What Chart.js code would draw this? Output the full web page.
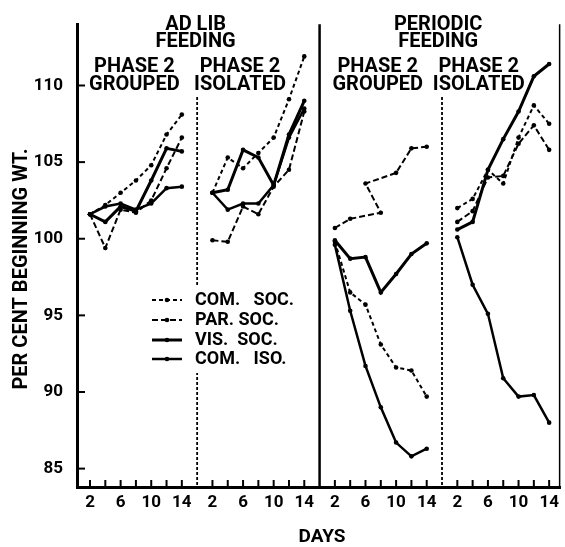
<!DOCTYPE html>
<html><head><meta charset="utf-8">
<script src="https://cdn.jsdelivr.net/npm/chart.js@4.4.1/dist/chart.umd.min.js"></script>
<style>html,body{margin:0;padding:0;background:#fff}#wrap{width:565px;height:547px;position:relative}</style>
</head><body><div id="wrap"><canvas id="c" width="565" height="547"></canvas></div>
<script>
// ---- data ----
const DAYS = [2, 4, 6, 8, 10, 12, 14];
const PANEL_DAYS = 16;
const X_TICK_LABELS = [2, 6, 10, 14];
const Y_TICKS = [85, 90, 95, 100, 105, 110];
const SERIES = ['COM.   SOC.', 'PAR. SOC.', 'VIS.  SOC.', 'COM.   ISO.'];
const TOP_HEADINGS = [['AD LIB', 'FEEDING'], ['PERIODIC', 'FEEDING']];
const PANEL_HEADINGS = [['PHASE 2', 'GROUPED'], ['PHASE 2', 'ISOLATED'], ['PHASE 2', 'GROUPED'], ['PHASE 2', 'ISOLATED']];
const Y_TITLE = 'PER CENT BEGINNING WT.';
const X_TITLE = 'DAYS';

// Ad lib feeding, phase 2 grouped
const ADLIB_GROUPED_COM_SOC = [101.6, 102.2, 103.0, 103.8, 104.8, 106.8, 108.1];
const ADLIB_GROUPED_PAR_SOC = [101.6, 99.4, 101.9, 101.7, 102.5, 104.6, 106.6];
const ADLIB_GROUPED_VIS_SOC = [101.6, 101.1, 102.1, 101.8, 103.8, 105.9, 105.7];
const ADLIB_GROUPED_COM_ISO = [101.6, 102.1, 102.3, 101.9, 102.3, 103.3, 103.4];
// Ad lib feeding, phase 2 isolated
const ADLIB_ISOLATED_COM_SOC = [103.0, 105.3, 104.6, 105.6, 106.6, 109.1, 111.9];
const ADLIB_ISOLATED_PAR_SOC = [99.9, 99.8, 102.1, 101.6, 103.4, 104.5, 108.3];
const ADLIB_ISOLATED_VIS_SOC = [103.0, 103.2, 105.8, 105.3, 103.5, 106.8, 109.0];
const ADLIB_ISOLATED_COM_ISO = [103.0, 101.9, 102.3, 102.3, 103.5, 106.6, 108.5];
// Periodic feeding, phase 2 grouped
const PERIODIC_GROUPED_COM_SOC = [99.8, 96.5, 95.7, 93.1, 91.6, 91.4, 89.7];
const PERIODIC_GROUPED_PAR_SOC_DAYS = [2, 4, 8, 6, 10, 12, 14];
const PERIODIC_GROUPED_PAR_SOC = [100.7, 101.3, 101.7, 103.6, 104.3, 105.9, 106.0];
const PERIODIC_GROUPED_VIS_SOC = [99.9, 98.7, 98.8, 96.5, 97.7, 99.0, 99.7];
const PERIODIC_GROUPED_COM_ISO = [99.6, 95.3, 91.7, 89.0, 86.7, 85.8, 86.3];
// Periodic feeding, phase 2 isolated
const PERIODIC_ISOLATED_COM_SOC = [102.0, 102.6, 104.5, 103.6, 106.6, 108.7, 107.5];
const PERIODIC_ISOLATED_PAR_SOC = [101.1, 101.8, 104.0, 104.1, 106.2, 107.4, 105.8];
const PERIODIC_ISOLATED_VIS_SOC = [100.6, 101.1, 104.5, 106.5, 108.3, 110.6, 111.4];
const PERIODIC_ISOLATED_COM_ISO = [100.1, 97.0, 95.1, 90.9, 89.7, 89.8, 88.0];

// ---- assembly ----
const PANEL_VALUES = [
  [ADLIB_GROUPED_COM_SOC, ADLIB_GROUPED_PAR_SOC, ADLIB_GROUPED_VIS_SOC, ADLIB_GROUPED_COM_ISO],
  [ADLIB_ISOLATED_COM_SOC, ADLIB_ISOLATED_PAR_SOC, ADLIB_ISOLATED_VIS_SOC, ADLIB_ISOLATED_COM_ISO],
  [PERIODIC_GROUPED_COM_SOC, PERIODIC_GROUPED_PAR_SOC, PERIODIC_GROUPED_VIS_SOC, PERIODIC_GROUPED_COM_ISO],
  [PERIODIC_ISOLATED_COM_SOC, PERIODIC_ISOLATED_PAR_SOC, PERIODIC_ISOLATED_VIS_SOC, PERIODIC_ISOLATED_COM_ISO]
];
const PANEL_XDAYS = [
  [DAYS, DAYS, DAYS, DAYS],
  [DAYS, DAYS, DAYS, DAYS],
  [DAYS, PERIODIC_GROUPED_PAR_SOC_DAYS, DAYS, DAYS],
  [DAYS, DAYS, DAYS, DAYS]
];
const STYLE = [
  {dash: [4, 3], width: 2},
  {dash: [6, 3], width: 2},
  {dash: [], width: 3},
  {dash: [], width: 2.5}
];
const FONT = 'Roboto, "Liberation Sans", sans-serif';

const datasets = [];
PANEL_VALUES.forEach((panel, p) => {
  panel.forEach((vals, s) => {
    const days = PANEL_XDAYS[p][s];
    datasets.push({
      label: SERIES[s],
      data: vals.map((v, i) => ({x: p * PANEL_DAYS + days[i], y: v})),
      showLine: true,
      borderColor: '#000',
      backgroundColor: '#000',
      borderWidth: STYLE[s].width,
      borderDash: STYLE[s].dash,
      pointRadius: 2.3,
      pointBorderWidth: 0,
      tension: 0,
      fill: false
    });
  });
});

const xTickValues = [];
for (let p = 0; p < 4; p++) X_TICK_LABELS.forEach(d => xTickValues.push(p * PANEL_DAYS + d));

const decor = {
  id: 'decor',
  beforeDatasetsDraw(chart) {
    const {ctx, chartArea: a, scales: {x, y}} = chart;
    ctx.save();
    ctx.strokeStyle = '#000';
    ctx.lineWidth = 2;
    ctx.setLineDash([]);
    for (let p = 0; p < 4; p++) {
      for (let d = 2; d <= 14; d += 2) {
        const px = x.getPixelForValue(p * PANEL_DAYS + d);
        ctx.beginPath(); ctx.moveTo(px, a.bottom); ctx.lineTo(px, a.bottom - 7); ctx.stroke();
      }
    }
    Y_TICKS.forEach(v => {
      const py = y.getPixelForValue(v);
      ctx.beginPath(); ctx.moveTo(a.left, py); ctx.lineTo(a.left + 8, py); ctx.stroke();
    });
    // panel dividers
    ctx.lineWidth = 1.8;
    ctx.setLineDash([3, 2]);
    [1, 3].forEach(p => {
      const px = x.getPixelForValue(p * PANEL_DAYS);
      ctx.beginPath(); ctx.moveTo(px, 97); ctx.lineTo(px, a.bottom); ctx.stroke();
    });
    ctx.setLineDash([]);
    ctx.lineWidth = 2.5;
    const mid = x.getPixelForValue(2 * PANEL_DAYS);
    ctx.beginPath(); ctx.moveTo(mid, a.top); ctx.lineTo(mid, a.bottom); ctx.stroke();
    ctx.lineWidth = 1.5;
    ctx.beginPath(); ctx.moveTo(a.right - 1, a.top); ctx.lineTo(a.right - 1, a.bottom); ctx.stroke();
    ctx.restore();
  },
  afterDatasetsDraw(chart) {
    const {ctx, chartArea: a, scales: {x}} = chart;
    ctx.save();
    ctx.fillStyle = '#000';
    ctx.textAlign = 'center';
    ctx.textBaseline = 'middle';
    ctx.font = 'bold 20px ' + FONT;
    // top headings
    const topX = [PANEL_DAYS - 0.2, 3 * PANEL_DAYS - 0.5];
    TOP_HEADINGS.forEach((h, i) => {
      ctx.fillText(h[0], x.getPixelForValue(topX[i]), 25);
      ctx.fillText(h[1], x.getPixelForValue(topX[i]), 42);
    });
    const panX = [7.8, 21.6, 39.6, 52.8];
    PANEL_HEADINGS.forEach((h, i) => {
      ctx.fillText(h[0], x.getPixelForValue(panX[i]), 67);
      ctx.fillText(h[1], x.getPixelForValue(panX[i]), 85);
    });
    // legend
    ctx.fillStyle = '#fff';
    ctx.fillRect(189, 287, 126, 86);
    const rows = [300, 320, 340, 359];
    SERIES.forEach((name, s) => {
      const yy = rows[s];
      ctx.strokeStyle = '#000';
      ctx.lineWidth = STYLE[s].width;
      ctx.setLineDash(STYLE[s].dash);
      ctx.beginPath(); ctx.moveTo(152, yy); ctx.lineTo(182, yy); ctx.stroke();
      ctx.setLineDash([]);
      ctx.fillStyle = '#000';
      ctx.beginPath(); ctx.arc(167, yy, 2.3, 0, Math.PI * 2); ctx.fill();
      ctx.textAlign = 'left';
      ctx.font = 'bold 18px ' + FONT;
      ctx.fillText(name, 195, yy);
    });
    // axis titles
    ctx.textAlign = 'center';
    ctx.font = 'bold 19px ' + FONT;
    ctx.fillText(X_TITLE, 322, 537);
    ctx.translate(22, 269);
    ctx.rotate(-Math.PI / 2);
    ctx.font = 'bold 20px ' + FONT;
    ctx.fillText(Y_TITLE, 0, 0);
    ctx.restore();
  }
};

new Chart(document.getElementById('c'), {
  type: 'scatter',
  data: {datasets},
  options: {
    responsive: false,
    animation: false,
    layout: {padding: {top: 12, right: 1, left: 0, bottom: 0}},
    plugins: {legend: {display: false}, tooltip: {enabled: false}},
    scales: {
      x: {
        type: 'linear', min: 0.3, max: 63.5,
        afterBuildTicks: s => { s.ticks = xTickValues.map(v => ({value: v})); },
        afterFit: s => { s.height = 60; },
        ticks: {autoSkip: false, maxRotation: 0, padding: 6, color: '#000',
          font: {family: FONT, size: 17, weight: 'bold'},
          callback: v => String(v % PANEL_DAYS)},
        grid: {display: false, drawTicks: false},
        border: {display: true, color: '#000', width: 3}
      },
      y: {
        type: 'linear', min: 83.8, max: 114,
        afterBuildTicks: s => { s.ticks = Y_TICKS.map(v => ({value: v})); },
        afterFit: s => { s.width = 77; },
        ticks: {padding: 14, color: '#000', font: {family: FONT, size: 17, weight: 'bold'},
          callback: v => String(v)},
        grid: {display: false, drawTicks: false},
        border: {display: true, color: '#000', width: 3}
      }
    }
  },
  plugins: [decor]
});
</script></body></html>
